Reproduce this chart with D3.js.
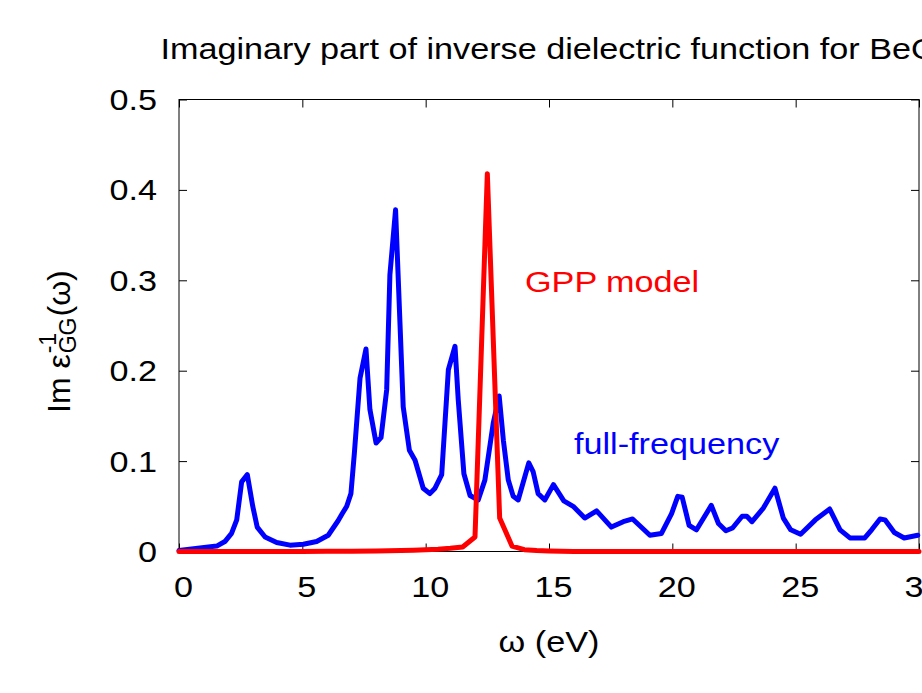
<!DOCTYPE html>
<html>
<head>
<meta charset="utf-8">
<script src="https://cdn.jsdelivr.net/npm/d3@7"></script>
<style>
  html, body { margin: 0; padding: 0; background: #fff; }
  svg { display: block; }
</style>
</head>
<body>
<svg id="chart" width="922" height="693"></svg>
<script>
// ---- data ----
const fullFreqOmega = [0, 0.85, 1.53, 1.86, 2.13, 2.34, 2.54, 2.77, 2.99, 3.17, 3.49, 3.96, 4.50, 5.04, 5.58, 6.05,
  6.45, 6.62, 6.80, 6.97, 7.11, 7.34, 7.58, 7.74, 7.99, 8.19, 8.42, 8.55, 8.78, 9.09, 9.34, 9.57, 9.90, 10.17, 10.38,
  10.65, 10.92, 11.19, 11.32, 11.55, 11.80, 12.13, 12.40, 12.74, 12.98, 13.15, 13.35, 13.55, 13.75, 14.18, 14.36,
  14.56, 14.83, 15.18, 15.60, 15.98, 16.45, 16.93, 17.53, 18.01, 18.39, 19.09, 19.56, 19.97, 20.22, 20.40, 20.68,
  20.98, 21.58, 21.87, 22.17, 22.44, 22.83, 23.02, 23.23, 23.69, 24.16, 24.50, 24.80, 25.20, 25.80, 26.38, 26.80,
  27.20, 27.80, 28.08, 28.42, 28.62, 29.00, 29.40, 29.95];
const fullFreqIm = [0.001, 0.004, 0.006, 0.011, 0.020, 0.035, 0.077, 0.085, 0.050, 0.027, 0.016, 0.010, 0.007, 0.008, 0.011, 0.018,
  0.034, 0.042, 0.050, 0.064, 0.109, 0.192, 0.224, 0.157, 0.120, 0.126, 0.179, 0.306, 0.378, 0.160, 0.112, 0.101, 0.070, 0.064, 0.070,
  0.085, 0.201, 0.227, 0.168, 0.086, 0.062, 0.057, 0.079, 0.142, 0.172, 0.123, 0.079, 0.061, 0.057, 0.098, 0.088,
  0.064, 0.057, 0.074, 0.056, 0.050, 0.037, 0.045, 0.027, 0.033, 0.036, 0.018, 0.020, 0.042, 0.061, 0.060, 0.029,
  0.024, 0.051, 0.031, 0.023, 0.026, 0.039, 0.039, 0.033, 0.048, 0.070, 0.037, 0.024, 0.019, 0.035, 0.047, 0.024,
  0.015, 0.015, 0.024, 0.036, 0.035, 0.021, 0.015, 0.018];

const gppOmega = [0, 1, 2, 3, 4, 5, 6, 7, 8, 9, 9.5, 10, 10.5, 11, 11.5, 12, 12.5, 13, 13.5, 14, 14.5, 15, 16, 18, 20, 22, 24, 26, 28, 30];
const gppIm    = [0, 0, 0, 0, 0, 0, 0.0002, 0.0003, 0.0005, 0.001, 0.0015, 0.002, 0.0025, 0.0035, 0.005, 0.016, 0.418, 0.037, 0.006, 0.002, 0.001, 0.0005, 0, 0, 0, 0, 0, 0, 0, 0];

const xTicks = [0, 5, 10, 15, 20, 25, 30];
const yTicks = [0, 0.1, 0.2, 0.3, 0.4, 0.5];
const yTickLabels = ["0", "0.1", "0.2", "0.3", "0.4", "0.5"];
const titleText = "Imaginary part of inverse dielectric function for BeO";
const xLabelText = "ω (eV)";
const gppLabel = "GPP model";
const ffLabel = "full-frequency";

// ---- layout ----
const svg = d3.select("#chart");
const L = 179, R = 919, T = 99.5, B = 551.5;
const FONT = "'Liberation Sans', Arial, Helvetica, sans-serif";
const SX = 1.14;  // horizontal stretch of the reference's text

const x = d3.scaleLinear().domain([0, 30]).range([L, R]);
const y = d3.scaleLinear().domain([0, 0.5]).range([B, T]);

function stretchedText(px, py, str, size, anchor, color) {
  return svg.append("text")
    .attr("transform", `translate(${px},${py}) scale(${SX},1)`)
    .attr("text-anchor", anchor)
    .attr("font-family", FONT)
    .attr("font-size", size)
    .attr("fill", color || "#000")
    .text(str);
}

// ticks (inward, mirrored)
const tickLen = 8;
const axB = svg.append("g").attr("transform", `translate(0,${B})`)
  .call(d3.axisBottom(x).tickValues(xTicks).tickSizeInner(-tickLen).tickSizeOuter(0).tickFormat(""));
const axT = svg.append("g").attr("transform", `translate(0,${T})`)
  .call(d3.axisTop(x).tickValues(xTicks).tickSizeInner(-tickLen).tickSizeOuter(0).tickFormat(""));
const axL = svg.append("g").attr("transform", `translate(${L},0)`)
  .call(d3.axisLeft(y).tickValues(yTicks).tickSizeInner(-tickLen).tickSizeOuter(0).tickFormat(""));
const axR = svg.append("g").attr("transform", `translate(${R},0)`)
  .call(d3.axisRight(y).tickValues(yTicks).tickSizeInner(-tickLen).tickSizeOuter(0).tickFormat(""));
[axB, axT, axL, axR].forEach(a => {
  a.select(".domain").remove();
  a.selectAll(".tick line").attr("stroke", "#000").attr("stroke-width", 1);
});

// border
svg.append("rect").attr("x", L).attr("y", T).attr("width", R - L).attr("height", B - T)
  .attr("fill", "none").attr("stroke", "#000").attr("stroke-width", 1);

// tick labels
xTicks.forEach(v => stretchedText(x(v) + 4.5, 597, String(v), 30, "middle"));
yTicks.forEach((v, i) => stretchedText(157, y(v) + 10.5, yTickLabels[i], 30, "end"));

// title and x label
stretchedText((L + R) / 2, 59, titleText, 30, "middle");
stretchedText((L + R) / 2, 652, xLabelText, 30, "middle");

// y label with stacked super/subscript
const yl = svg.append("g").attr("transform", "translate(70,413) rotate(-90)");
const t1 = yl.append("text").attr("x", 0).attr("y", 0).attr("font-family", FONT).attr("font-size", 32).text("Im ε");
const w1 = t1.node().getComputedTextLength();
const sup = yl.append("text").attr("x", w1 + 1).attr("y", -14).attr("font-family", FONT).attr("font-size", 23).text("-1");
const sub = yl.append("text").attr("x", w1 + 1).attr("y", 6).attr("font-family", FONT).attr("font-size", 23).text("GG");
const w2 = Math.max(sup.node().getComputedTextLength(), sub.node().getComputedTextLength());
yl.append("text").attr("x", w1 + w2 + 2).attr("y", 0).attr("font-family", FONT).attr("font-size", 32).text("(ω)");

// curves
const ffData = fullFreqOmega.map((w, i) => [w, fullFreqIm[i]]);
const gppData = gppOmega.map((w, i) => [w, gppIm[i]]);
const line = d3.line().x(d => x(d[0])).y(d => y(d[1]));

svg.append("path").datum(ffData).attr("d", line)
  .attr("fill", "none").attr("stroke", "#0000ff").attr("stroke-width", 5)
  .attr("stroke-linejoin", "round").attr("stroke-linecap", "round");
svg.append("path").datum(gppData).attr("d", line)
  .attr("fill", "none").attr("stroke", "#ff0000").attr("stroke-width", 5)
  .attr("stroke-linejoin", "round").attr("stroke-linecap", "round");

// in-plot labels
stretchedText(525, 292, gppLabel, 30, "start", "#ff0000");
stretchedText(574, 454, ffLabel, 30, "start", "#0000ff");
</script>
</body>
</html>
